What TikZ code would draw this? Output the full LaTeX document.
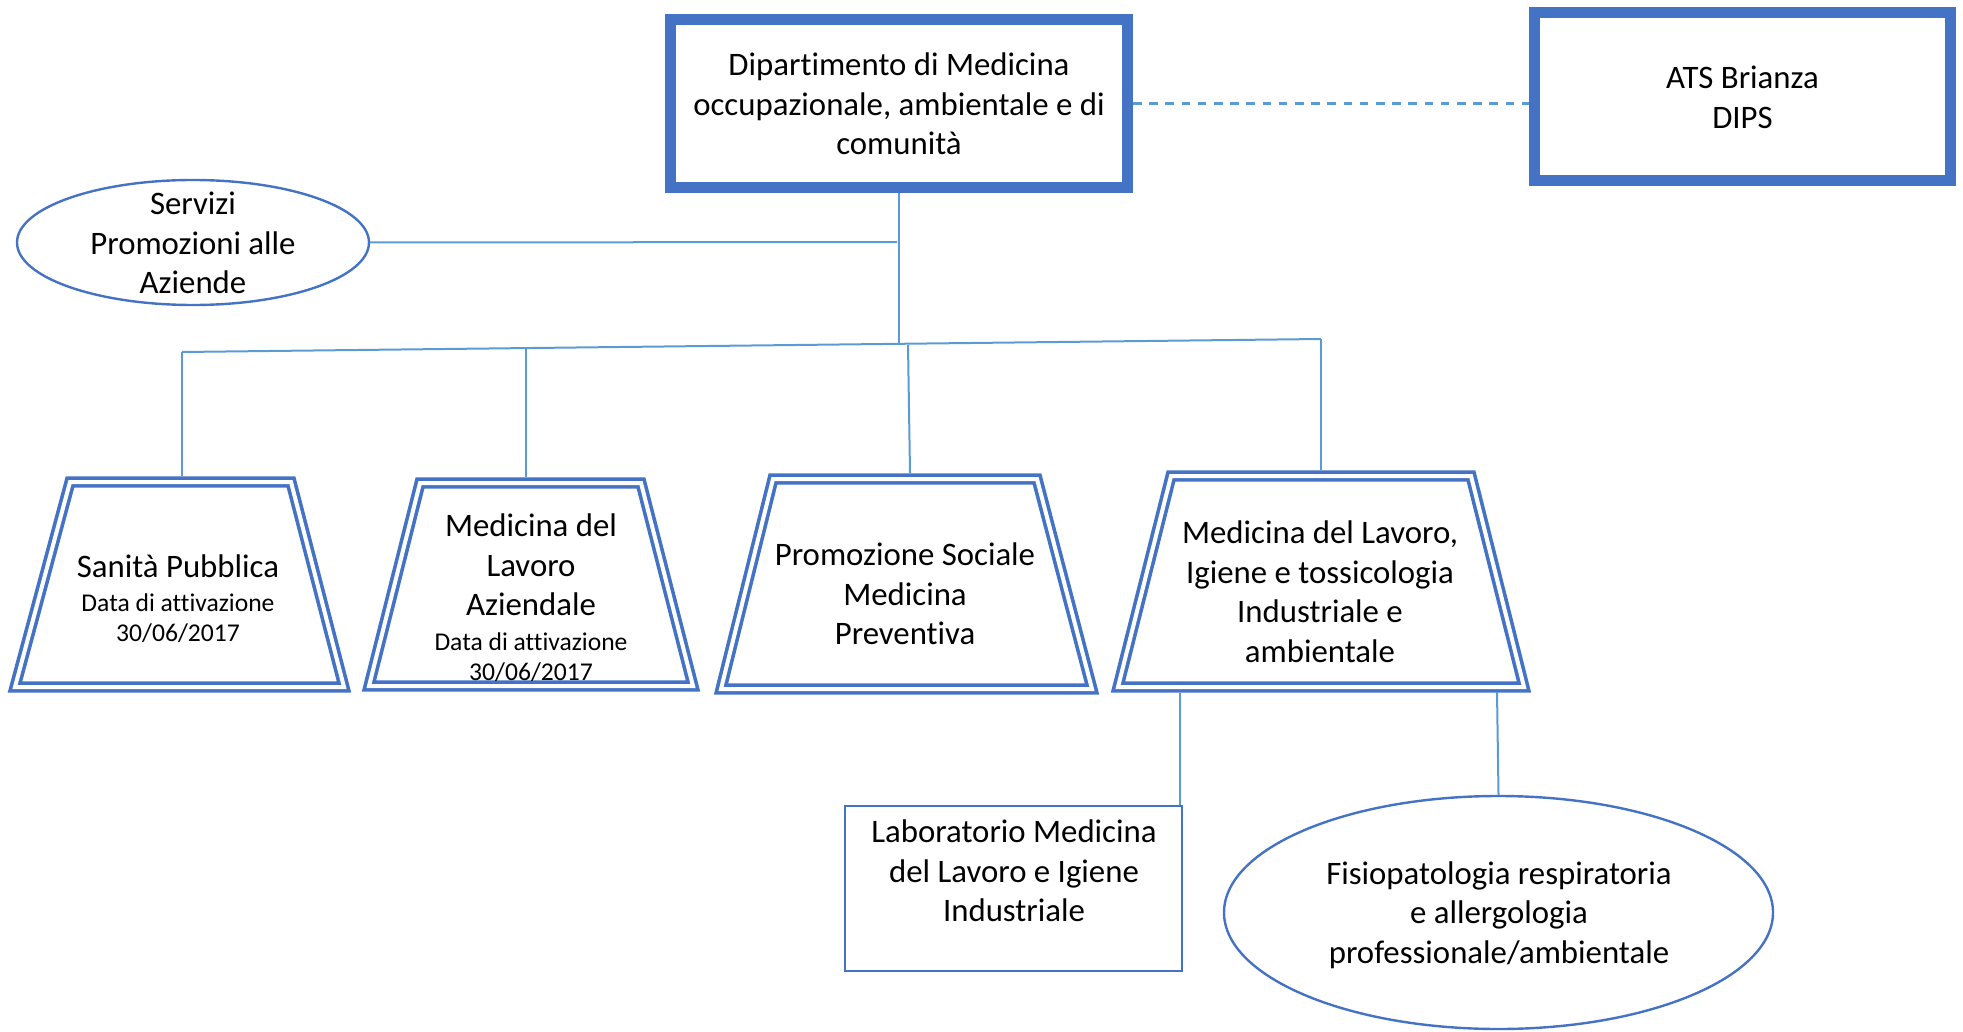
\documentclass[tikz,border=0pt]{standalone}
\usepackage{fontspec}
\setmainfont{Carlito}[Ligatures=NoCommon]
\usetikzlibrary{shapes.geometric}
\definecolor{dblue}{HTML}{4472C4}
\definecolor{lblue}{HTML}{5B9BD5}
\newcommand{\smallsz}{\fontsize{12.8}{15}\selectfont}
\tikzset{
  conn/.style={draw=lblue, line width=1pt},
  dashconn/.style={draw=lblue, line width=1.1pt, dash pattern=on 4.3pt off 3.8pt},
  thickbox/.style={draw=dblue, line width=5.5pt, inner sep=0pt},
  thinbox/.style={draw=dblue, line width=1pt, inner sep=0pt},
  ellbox/.style={ellipse, draw=dblue, line width=1.2pt, inner sep=0pt},
  dbl/.style={draw=dblue, double=white, line width=1.8pt, double distance=2pt, line join=miter},
  txt/.style={font=\fontsize{16.4}{19.75}\selectfont, align=center, text=black, inner sep=0pt},
}
\begin{document}
\begin{tikzpicture}[x=0.5pt,y=-0.5pt]
\useasboundingbox (0,0) rectangle (1963,1032);

% main boxes
\node[thickbox, minimum width=228.5pt, minimum height=84pt] (top) at (899,103.5) {};
\node[txt] (topt) at (899,104) {Dipartimento di Medicina\\occupazionale, ambientale e di\\comunità};

\node[thickbox, minimum width=208pt, minimum height=84pt] (ats) at (1742.5,96.5) {};
\node[txt] (atst) at (1742.5,97.5) {ATS Brianza\\DIPS};

\node[ellbox, minimum width=176pt, minimum height=62.5pt] (serv) at (193,242.5) {};
\node[txt] (servt) at (193,243) {Servizi\\Promozioni alle\\Aziende};

% trapezia
\draw[dbl] (70,482) -- (291,482) -- (344,687) -- (15,687) -- cycle;
\coordinate (t1top) at (182,476);
\node[txt] (t1t) at (178,598.5) {Sanità Pubblica\\[-3pt]\smallsz Data di attivazione\\[-4.75pt]\smallsz 30/06/2017};

\draw[dbl] (420,483) -- (641,483) -- (693,686) -- (369,686) -- cycle;
\coordinate (t2top) at (526,477);
\node[txt] (t2t) at (531,598) {Medicina del\\Lavoro\\Aziendale\\[-2.25pt]\smallsz Data di attivazione\\[-4.75pt]\smallsz 30/06/2017};

\draw[dbl] (773,479) -- (1037,479) -- (1092,689) -- (721,689) -- cycle;
\coordinate (t3top) at (910,473);
\node[txt] (t3t) at (905,594) {Promozione Sociale\\Medicina\\Preventiva};

\draw[dbl] (1171,476) -- (1471,476) -- (1524,687) -- (1118,687) -- cycle;
\coordinate (t4top) at (1321,470);
\coordinate (t4bl) at (1180,693);
\coordinate (t4br) at (1497,692);
\node[txt] (t4t) at (1320,591.5) {Medicina del Lavoro,\\Igiene e tossicologia\\Industriale e\\ambientale};

% children
\node[thinbox, minimum width=168.5pt, minimum height=82.5pt] (lab) at (1013.5,888.5) {};
\node[txt] (labt) at (1014,871) {Laboratorio Medicina\\del Lavoro e Igiene\\Industriale};

\node[ellbox, minimum width=274.5pt, minimum height=116.5pt] (fis) at (1498.5,912.5) {};
\node[txt] (fist) at (1499,915) {Fisiopatologia respiratoria\\e allergologia\\professionale/ambientale};

% connectors
\coordinate (j1) at (897,242);
\coordinate (jb) at (899,344);
\coordinate (b1) at (182,352);
\coordinate (b2) at (526,348);
\coordinate (b3) at (908,345);
\coordinate (b4) at (1321,339);

\draw[dashconn] (top.east) -- (top.east -| ats.west);
\draw[conn] (top.south) -- (jb);
\draw[conn] (serv.east) -- (j1);
\draw[conn] (b1) -- (b4);
\draw[conn] (b1) -- (t1top);
\draw[conn] (b2) -- (t2top);
\draw[conn] (b3) -- (t3top);
\draw[conn] (b4) -- (t4top);
\draw[conn] (t4bl) -- (t4bl |- lab.north);
\draw[conn] (t4br) -- (fis.north);
\end{tikzpicture}
\end{document}
